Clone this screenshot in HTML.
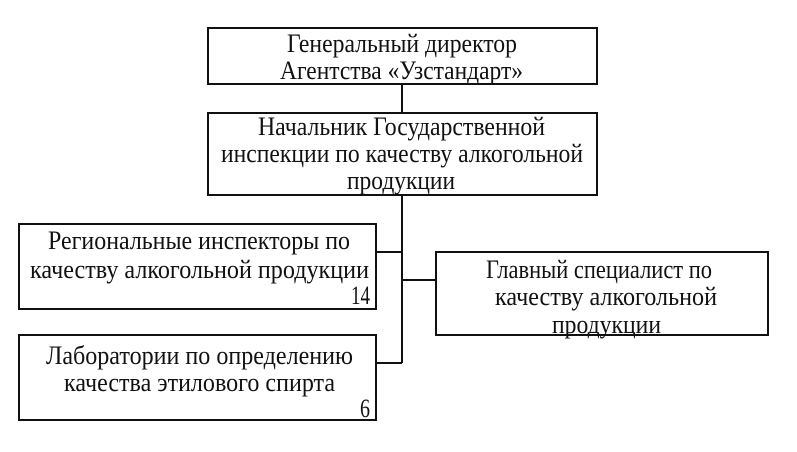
<!DOCTYPE html>
<html><head><meta charset="utf-8"><style>
html,body{margin:0;padding:0;background:#fff;width:797px;height:452px;overflow:hidden}
svg text{font-family:"Liberation Serif",serif;font-size:26px;fill:#111}
</style></head><body>
<svg width="797" height="452" viewBox="0 0 797 452" xmlns="http://www.w3.org/2000/svg">
<g fill="none" stroke="#111" stroke-width="2">
<rect x="208" y="28" width="389" height="56"/>
<rect x="208" y="113" width="389" height="82"/>
<rect x="19" y="224" width="357" height="85"/>
<rect x="19" y="335" width="357" height="85"/>
<rect x="436" y="252" width="332" height="83"/>
<line x1="402" y1="84" x2="402" y2="113"/>
<line x1="402" y1="195" x2="402" y2="363"/>
<line x1="376" y1="252" x2="402" y2="252"/>
<line x1="376" y1="363" x2="402" y2="363"/>
<line x1="402" y1="280" x2="436" y2="280"/>
</g>
<g transform="translate(0,-2)">
<text x="287" y="54" textLength="230" lengthAdjust="spacingAndGlyphs">Генеральный директор</text>
<text x="280" y="81" textLength="243" lengthAdjust="spacingAndGlyphs">Агентства «Узстандарт»</text>
<text x="258" y="137" textLength="287" lengthAdjust="spacingAndGlyphs">Начальник Государственной</text>
<text x="221" y="164" textLength="362" lengthAdjust="spacingAndGlyphs">инспекции по качеству алкогольной</text>
<text x="347" y="191" textLength="108" lengthAdjust="spacingAndGlyphs">продукции</text>
<text x="48" y="251" textLength="302" lengthAdjust="spacingAndGlyphs">Региональные инспекторы по</text>
<text x="30" y="280" textLength="339" lengthAdjust="spacingAndGlyphs">качеству алкогольной продукции</text>
<text x="351" y="306" textLength="19" lengthAdjust="spacingAndGlyphs">14</text>
<text x="486" y="280" textLength="226" lengthAdjust="spacingAndGlyphs">Главный специалист по</text>
<text x="495" y="307" textLength="222" lengthAdjust="spacingAndGlyphs">качеству алкогольной</text>
<text x="552" y="335" textLength="109" lengthAdjust="spacingAndGlyphs">продукции</text>
<text x="46" y="366" textLength="307" lengthAdjust="spacingAndGlyphs">Лаборатории по определению</text>
<text x="64" y="393" textLength="271" lengthAdjust="spacingAndGlyphs">качества этилового спирта</text>
<text x="360" y="419" textLength="10" lengthAdjust="spacingAndGlyphs">6</text>
</g>
</svg>
</body></html>
